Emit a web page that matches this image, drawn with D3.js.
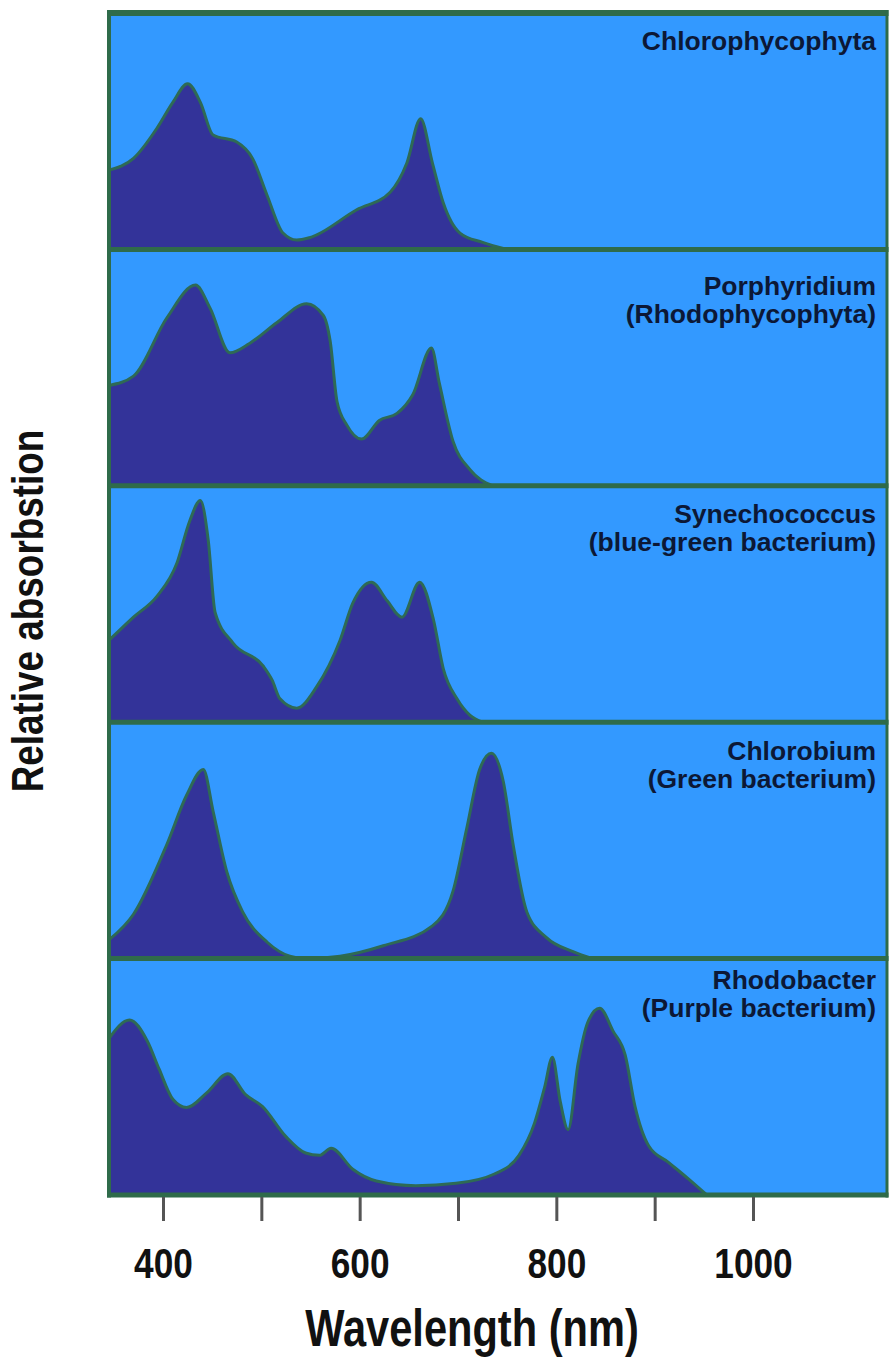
<!DOCTYPE html>
<html>
<head>
<meta charset="utf-8">
<script src="https://cdn.jsdelivr.net/npm/d3@7"></script>
<style>
  body { margin: 0; background: #fff; }
  svg { display: block; }
  text { font-family: "Liberation Sans", Arial, sans-serif; font-weight: bold; }
</style>
</head>
<body>
<svg id="chart"></svg>
<script>
// absorption spectra (0 = panel baseline, 1 = panel top)
const chlorophycophytaNm  = [345, 370, 394, 410, 425, 438, 451, 475, 491, 506, 522, 536, 549, 597, 631, 648, 662, 674, 685, 702, 725, 750];
const chlorophycophytaAbs = [0.34, 0.39, 0.52, 0.63, 0.71, 0.63, 0.49, 0.46, 0.39, 0.23, 0.07, 0.04, 0.05, 0.17, 0.245, 0.37, 0.56, 0.37, 0.20, 0.07, 0.03, 0];

const porphyridiumNm  = [345, 370, 404, 433, 448, 468, 488, 516, 546, 563, 570, 577, 587, 602, 620, 638, 654, 673, 681, 695, 712, 735];
const porphyridiumAbs = [0.43, 0.47, 0.72, 0.86, 0.76, 0.57, 0.61, 0.70, 0.78, 0.73, 0.62, 0.36, 0.26, 0.20, 0.28, 0.31, 0.39, 0.59, 0.44, 0.19, 0.07, 0];

const synechococcusNm  = [345, 370, 394, 414, 427, 438, 446, 453, 471, 502, 511, 519, 536, 556, 580, 593, 612, 628, 643, 661, 675, 685, 699, 712, 725];
const synechococcusAbs = [0.35, 0.45, 0.54, 0.68, 0.86, 0.95, 0.78, 0.47, 0.34, 0.24, 0.18, 0.10, 0.06, 0.15, 0.35, 0.51, 0.60, 0.52, 0.45, 0.60, 0.44, 0.23, 0.10, 0.03, 0];

const chlorobiumNm  = [345, 370, 404, 424, 441, 451, 465, 481, 506, 529, 545, 580, 624, 674, 695, 709, 722, 734, 746, 756, 770, 790, 817, 837];
const chlorobiumAbs = [0.08, 0.19, 0.49, 0.70, 0.81, 0.63, 0.37, 0.20, 0.07, 0.01, 0, 0.01, 0.055, 0.14, 0.29, 0.56, 0.81, 0.88, 0.76, 0.49, 0.20, 0.09, 0.03, 0];

const rhodobacterNm  = [345, 366, 384, 396, 410, 424, 445, 466, 484, 501, 525, 545, 559, 571, 593, 617, 657, 698, 737, 762, 778, 788, 796, 804, 812, 822, 832, 844, 858, 870, 880, 894, 914, 934, 953];
const rhodobacterAbs = [0.67, 0.75, 0.66, 0.54, 0.41, 0.375, 0.44, 0.52, 0.43, 0.38, 0.25, 0.18, 0.17, 0.20, 0.11, 0.06, 0.04, 0.05, 0.09, 0.17, 0.31, 0.46, 0.59, 0.40, 0.28, 0.56, 0.74, 0.80, 0.70, 0.60, 0.38, 0.21, 0.14, 0.07, 0];

const panelLabels = [
    ["Chlorophycophyta"],
    ["Porphyridium", "(Rhodophycophyta)"],
    ["Synechococcus", "(blue-green bacterium)"],
    ["Chlorobium", "(Green bacterium)"],
    ["Rhodobacter", "(Purple bacterium)"]
];

const tickValues = [400, 500, 600, 700, 800, 900, 1000];
const tickLabels = [400, 600, 800, 1000];

const xTitle = "Wavelength (nm)";
const yTitle = "Relative absorbstion";

const spectra = [
    { nm: chlorophycophytaNm, abs: chlorophycophytaAbs },
    { nm: porphyridiumNm, abs: porphyridiumAbs },
    { nm: synechococcusNm, abs: synechococcusAbs },
    { nm: chlorobiumNm, abs: chlorobiumAbs },
    { nm: rhodobacterNm, abs: rhodobacterAbs }
];

// layout
const width = 891;
const height = 1362;
const plotLeft = 109;
const plotRight = 887;
const plotTop = 13;
const plotBottom = 1195;
const panelHeight = (plotBottom - plotTop) / spectra.length;
const labelOffsets = [37, 46, 37, 38, 30];

const skyBlue = "#3399ff";
const fillBlue = "#333399";
const borderGreen = "#2f6b4a";
const curveGreen = "#2e6a55";

const svg = d3.select("#chart").attr("width", width).attr("height", height);

const x = d3.scaleLinear()
    .domain([400, 1000])
    .range([163, 753]);

svg.append("clipPath").attr("id", "plotclip")
  .append("rect")
    .attr("x", plotLeft).attr("y", plotTop)
    .attr("width", plotRight - plotLeft).attr("height", plotBottom - plotTop);

svg.append("rect")
    .attr("x", plotLeft).attr("y", plotTop)
    .attr("width", plotRight - plotLeft).attr("height", plotBottom - plotTop)
    .attr("fill", skyBlue);

const plot = svg.append("g").attr("clip-path", "url(#plotclip)");

spectra.forEach(function(s, i) {
    const top = plotTop + i * panelHeight;
    const bottom = top + panelHeight;
    const y = d3.scaleLinear().domain([0, 1]).range([bottom, top + 3]);
    const pts = s.nm.map((d, j) => [d, s.abs[j]]);

    const area = d3.area()
        .x(d => x(d[0]))
        .y0(bottom)
        .y1(d => y(d[1]))
        .curve(d3.curveMonotoneX);

    const line = d3.line()
        .x(d => x(d[0]))
        .y(d => y(d[1]))
        .curve(d3.curveMonotoneX);

    plot.append("path").datum(pts)
        .attr("d", area)
        .attr("fill", fillBlue);

    plot.append("path").datum(pts)
        .attr("d", line)
        .attr("fill", "none")
        .attr("stroke", curveGreen)
        .attr("stroke-width", 3)
        .attr("stroke-linejoin", "round");

    panelLabels[i].forEach(function(txt, k) {
        svg.append("text")
            .attr("transform", `translate(876,${top + labelOffsets[i] + k * 28}) scale(1.02,1)`)
            .attr("text-anchor", "end")
            .attr("font-size", 26)
            .attr("fill", "#0c1836")
            .text(txt);
    });
});

// panel borders
d3.range(spectra.length + 1).forEach(function(i) {
    const yy = plotTop + i * panelHeight;
    svg.append("line")
        .attr("x1", plotLeft - 2).attr("x2", plotRight + 1.5)
        .attr("y1", yy).attr("y2", yy)
        .attr("stroke", borderGreen)
        .attr("stroke-width", i == 0 ? 6 : 5);
});
svg.append("line")
    .attr("x1", plotLeft).attr("x2", plotLeft)
    .attr("y1", plotTop - 3).attr("y2", plotBottom + 2.5)
    .attr("stroke", borderGreen).attr("stroke-width", 4);
svg.append("line")
    .attr("x1", plotRight).attr("x2", plotRight)
    .attr("y1", plotTop - 3).attr("y2", plotBottom + 2.5)
    .attr("stroke", borderGreen).attr("stroke-width", 3);

// x axis
const xAxis = svg.append("g")
    .attr("transform", `translate(0,${plotBottom + 2})`)
    .call(d3.axisBottom(x)
        .tickValues(tickValues)
        .tickSize(24)
        .tickFormat(d => tickLabels.includes(d) ? d : ""));

xAxis.select(".domain").remove();
xAxis.selectAll(".tick line")
    .attr("stroke", "#555")
    .attr("stroke-width", 3);
xAxis.selectAll(".tick text")
    .attr("y", 50)
    .attr("font-size", 43)
    .attr("font-family", "Liberation Sans, Arial, sans-serif")
    .attr("font-weight", "bold")
    .attr("fill", "#111")
    .attr("transform", "scale(0.82,1)");

svg.append("text")
    .attr("transform", "translate(472,1346) scale(0.8,1)")
    .attr("text-anchor", "middle")
    .attr("font-size", 52)
    .attr("fill", "#111")
    .text(xTitle);

svg.append("text")
    .attr("transform", "translate(43,611) rotate(-90) scale(0.82,1)")
    .attr("text-anchor", "middle")
    .attr("font-size", 45)
    .attr("fill", "#111")
    .text(yTitle);
</script>
</body>
</html>
